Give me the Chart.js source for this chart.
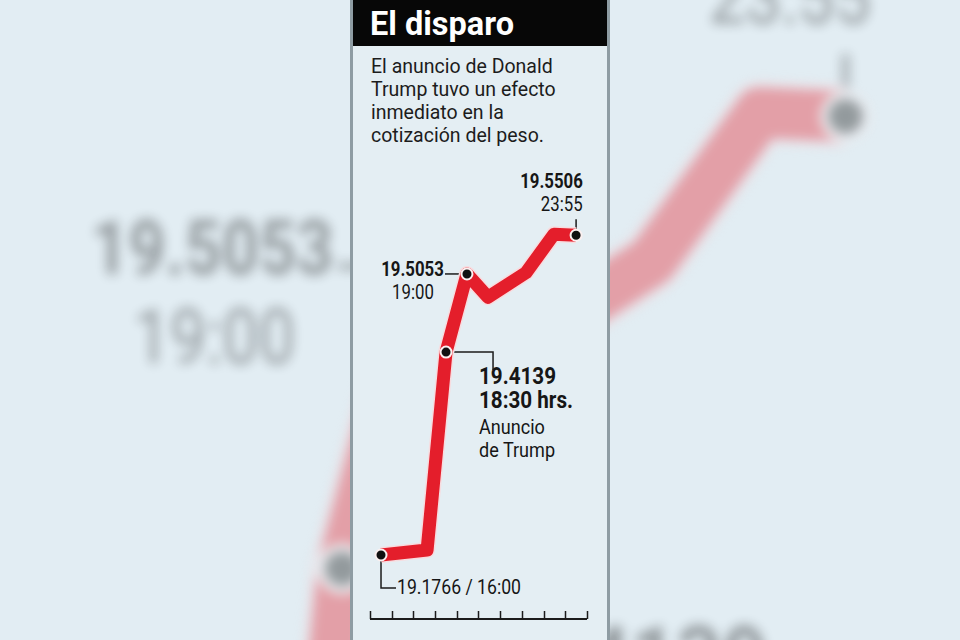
<!DOCTYPE html>
<html lang="es">
<head>
<meta charset="utf-8">
<title>El disparo</title>
<script src="https://cdn.jsdelivr.net/npm/chart.js@4.4.1/dist/chart.umd.min.js"></script>
<style>
  html, body { margin: 0; padding: 0; }
  body {
    width: 960px; height: 640px; overflow: hidden; position: relative;
    background: #e2edf3;
    font-family: Roboto, "Noto Sans", sans-serif;
    color: #161616;
  }
  /* copia ampliada y desenfocada del gráfico, de fondo */
  #fondo { position: absolute; left: 0; top: 0; width: 960px; height: 640px; filter: blur(6px); opacity: 0.38; }
  #fondoEscena { position: absolute; left: 0; top: 0; width: 960px; height: 640px;
    transform-origin: 0 0; transform: matrix(3.87, 0, 0, 3.87, -1384, -794); }
  #panel {
    position: absolute; left: 350px; top: 0; width: 254px; height: 640px;
    background: #e4eef3; border-left: 3px solid #8e9ca3; border-right: 3px solid #8e9ca3;
  }
  #cabecera { position: absolute; left: 0; top: 0; width: 254px; height: 46px; background: #070707; }
  #titulo { position: absolute; left: 370px; top: 8px; font-size: 32.5px; line-height: 1; font-weight: 700; color: #fff; }
  #entrada { position: absolute; left: 371px; top: 55px; font-size: 19.5px; line-height: 23px; color: #1c1c1c; }
  .rotulo { position: absolute; line-height: 1; white-space: nowrap; }
  .grafico { position: absolute; left: 360px; top: 150px; width: 237px; height: 480px; }
</style>
</head>
<body>
<div id="fondo" aria-hidden="true"><div id="fondoEscena"></div></div>
<div id="panel"><div id="cabecera"></div></div>
<div id="titulo">El disparo</div>
<div id="entrada">El anuncio de Donald<br>Trump tuvo un efecto<br>inmediato en la<br>cotización del peso.</div>
<div id="escena"></div>

<script>
// tipo de cambio peso/dólar
const horas  = ['16:00', '', '18:30', '19:00', '', '', '', '23:55'];
const posHora = [16.00, 17.87, 18.64, 19.49, 20.34, 21.89, 23.02, 23.92]; // posición en el eje (horas aprox.)
const pesos  = [19.1766, 19.1824, 19.4139, 19.5053, 19.4781, 19.5069, 19.5517, 19.5506];
const marcados = [0, 2, 3, 7];
const divisionesRegla = 10;

const fmt = v => v.toFixed(4);

// rótulos: texto, tamaño, peso, alineación, x, altura de mayúsculas
const rotulos = [
  [fmt(pesos[7]),                 19.5, 700, 'right',  583, 175],
  [horas[7],                      19.5, 400, 'right',  583, 197.5],
  [fmt(pesos[3]),                 19.5, 700, 'right',  444, 263],
  [horas[3],                      19.5, 400, 'center', 413, 286],
  [fmt(pesos[2]),                 24,   700, 'left',   478.5, 367.5],
  [horas[2] + ' hrs.',            24,   700, 'left',   478.5, 391],
  ['Anuncio',                     21,   400, 'left',   478.5, 420],
  ['de Trump',                    21,   400, 'left',   478.5, 443],
  [fmt(pesos[0]) + ' / ' + horas[0], 20.5, 400, 'left', 397, 580]
];

// líneas guía desde cada punto marcado (desplazamientos en px)
const guiasPuntos = {
  0: [[0, 0], [0, 33], [15, 33]],
  2: [[0, 0], [47, 0], [47, 18]],
  3: [[0, 0], [-22, 0]],
  7: [[0, 0], [0, -16]]
};

const serie = posHora.map((h, i) => ({ x: h, y: pesos[i] }));
const puntos = marcados.map(i => ({ x: posHora[i], y: pesos[i] }));

const guias = {
  id: 'guias',
  beforeDatasetsDraw(chart, args, opts) {
    const ctx = chart.ctx;
    const meta = chart.getDatasetMeta(1);
    ctx.save();
    ctx.strokeStyle = '#1b1b1b';
    ctx.lineWidth = 1.5;
    Object.keys(guiasPuntos).forEach(i => {
      const p = meta.data[i];
      ctx.beginPath();
      guiasPuntos[i].forEach(([dx, dy], k) => {
        if (k) ctx.lineTo(p.x + dx, p.y + dy); else ctx.moveTo(p.x + dx, p.y + dy);
      });
      ctx.stroke();
    });
    if (opts.regla) {
      const xs = chart.scales.x, a = chart.chartArea;
      const yb = a.bottom - 1;
      ctx.lineWidth = 2;
      ctx.beginPath();
      ctx.moveTo(a.left, yb); ctx.lineTo(a.right, yb);
      ctx.stroke();
      ctx.lineWidth = 1.5;
      for (let k = 0; k <= divisionesRegla; k++) {
        const v = xs.min + k * (xs.max - xs.min) / divisionesRegla;
        const px = Math.round(xs.getPixelForValue(v)) + 0.5;
        ctx.beginPath();
        ctx.moveTo(px, yb); ctx.lineTo(px, yb - 8);
        ctx.stroke();
      }
    }
    ctx.restore();
  }
};

function config(dpr, regla) {
  return {
    type: 'line',
    data: {
      datasets: [
        { label: 'marcas', data: puntos, showLine: false,
          pointRadius: 5.5, pointHoverRadius: 5.5, pointBackgroundColor: '#111',
          pointBorderColor: '#fbf0f0', pointBorderWidth: 2 },
        { label: 'Peso por dólar', data: serie, borderColor: '#e41e2b', borderWidth: 13,
          pointRadius: 0, tension: 0, borderJoinStyle: 'round', borderCapStyle: 'butt' },
        { label: 'borde', data: serie, borderColor: '#f7dcdf', borderWidth: 16,
          pointRadius: 0, tension: 0, borderJoinStyle: 'round', borderCapStyle: 'butt' }
      ]
    },
    options: {
      responsive: false,
      animation: false,
      devicePixelRatio: dpr,
      events: [],
      layout: { padding: { left: 10, right: 10, top: 0, bottom: 10 } },
      plugins: { legend: { display: false }, tooltip: { enabled: false }, guias: { regla: regla } },
      scales: {
        x: { type: 'linear', min: 15.553, max: 24.363, display: false },
        y: { type: 'linear', min: 19.1006, max: 19.6415, display: false }
      }
    },
    plugins: [guias]
  };
}

function montar(escena, visibles, dpr, regla) {
  rotulos.forEach((r, n) => {
    if (visibles && !visibles.includes(n)) return;
    const [texto, tam, peso, alin, x, capTop] = r;
    const d = document.createElement('div');
    d.className = 'rotulo';
    d.textContent = texto;
    d.style.fontSize = tam + 'px';
    d.style.fontWeight = peso;
    d.style.top = (capTop - 0.131 * tam) + 'px';
    const sx = 'scaleX(0.86)';
    if (alin === 'right') {
      d.style.right = (960 - x) + 'px';
      d.style.transformOrigin = '100% 50%';
      d.style.transform = sx;
    } else if (alin === 'center') {
      d.style.left = x + 'px';
      d.style.transform = 'translateX(-50%) ' + sx;
    } else {
      d.style.left = x + 'px';
      d.style.transformOrigin = '0 50%';
      d.style.transform = sx;
    }
    escena.appendChild(d);
  });
  const caja = document.createElement('div');
  caja.className = 'grafico';
  const lienzo = document.createElement('canvas');
  lienzo.width = 237;
  lienzo.height = 480;
  caja.appendChild(lienzo);
  escena.appendChild(caja);
  return new Chart(lienzo, config(dpr, regla));
}

montar(document.getElementById('fondoEscena'), [1, 2, 3, 4], 2, false);
montar(document.getElementById('escena'), null, 1, true);
</script>
</body>
</html>
